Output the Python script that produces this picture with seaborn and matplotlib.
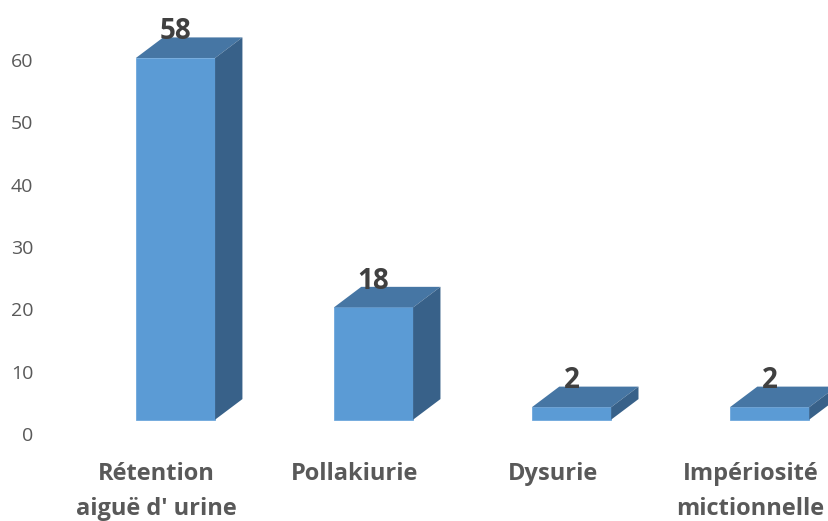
import numpy as np
import matplotlib
matplotlib.use('Agg')
import matplotlib.pyplot as plt
import matplotlib.transforms as mtransforms
from matplotlib.patches import Polygon
import seaborn as sns
import pandas as pd

# Données
categories = ["Rétention\naiguë d' urine", "Pollakiurie", "Dysurie", "Impériosité\nmictionnelle"]
valeurs = [58, 18, 2, 2]
yticks = [0, 10, 20, 30, 40, 50, 60]

df = pd.DataFrame({'symptome': categories, 'effectif': valeurs})

sns.set_style('white')
plt.rcParams['font.family'] = ['Open Sans', 'DejaVu Sans']

fig = plt.figure(figsize=(8.29, 5.21), dpi=100)
ax = fig.add_axes([0.06, 87 / 521, 0.94, 434 / 521])

sns.barplot(data=df, x='symptome', y='effectif', color='#5b9bd5',
            width=0.4, saturation=1, ax=ax, zorder=2)

# effet 3D : socle décalé, faces supérieure et latérale
base = 2.3
dx, dy = 0.138, 3.3
col_top = '#4676a4'
col_side = '#386189'

for patch, v in zip(ax.patches, valeurs):
    x0 = patch.get_x()
    w = patch.get_width()
    patch.set_y(base)
    patch.set_height(v)
    patch.set_edgecolor('#6fa8dc')
    patch.set_linewidth(0.6)
    y1 = base + v
    top = Polygon([(x0, y1), (x0 + w, y1), (x0 + w + dx, y1 + dy), (x0 + dx, y1 + dy)],
                  closed=True, facecolor=col_top, edgecolor='none', zorder=2)
    side = Polygon([(x0 + w, base), (x0 + w + dx, base + dy), (x0 + w + dx, y1 + dy), (x0 + w, y1)],
                   closed=True, facecolor=col_side, edgecolor='none', zorder=2)
    ax.add_patch(top)
    ax.add_patch(side)
    ax.text(x0 + w / 2, y1 + dy - 0.3, str(v), ha='center', va='baseline',
            fontsize=20, fontweight='bold', color='#404040', zorder=3)

ax.set_xlim(-0.635, 3.3)
ax.set_ylim(0, 69.6)
ax.set_yticks(yticks)
ax.set_xlabel('')
ax.set_ylabel('')
ax.tick_params(axis='y', labelsize=14, labelcolor='#595959', length=0, pad=12)
ax.tick_params(axis='x', labelsize=17, labelcolor='#595959', length=0, pad=20)
for lab in ax.get_xticklabels():
    lab.set_fontweight('bold')
    lab.set_linespacing(1.6)
    lab.set_transform(lab.get_transform() + mtransforms.ScaledTranslation(-0.19, 0, fig.dpi_scale_trans))

sns.despine(ax=ax, left=True, bottom=True)
ax.grid(False)

fig.savefig('out.png', dpi=100)
